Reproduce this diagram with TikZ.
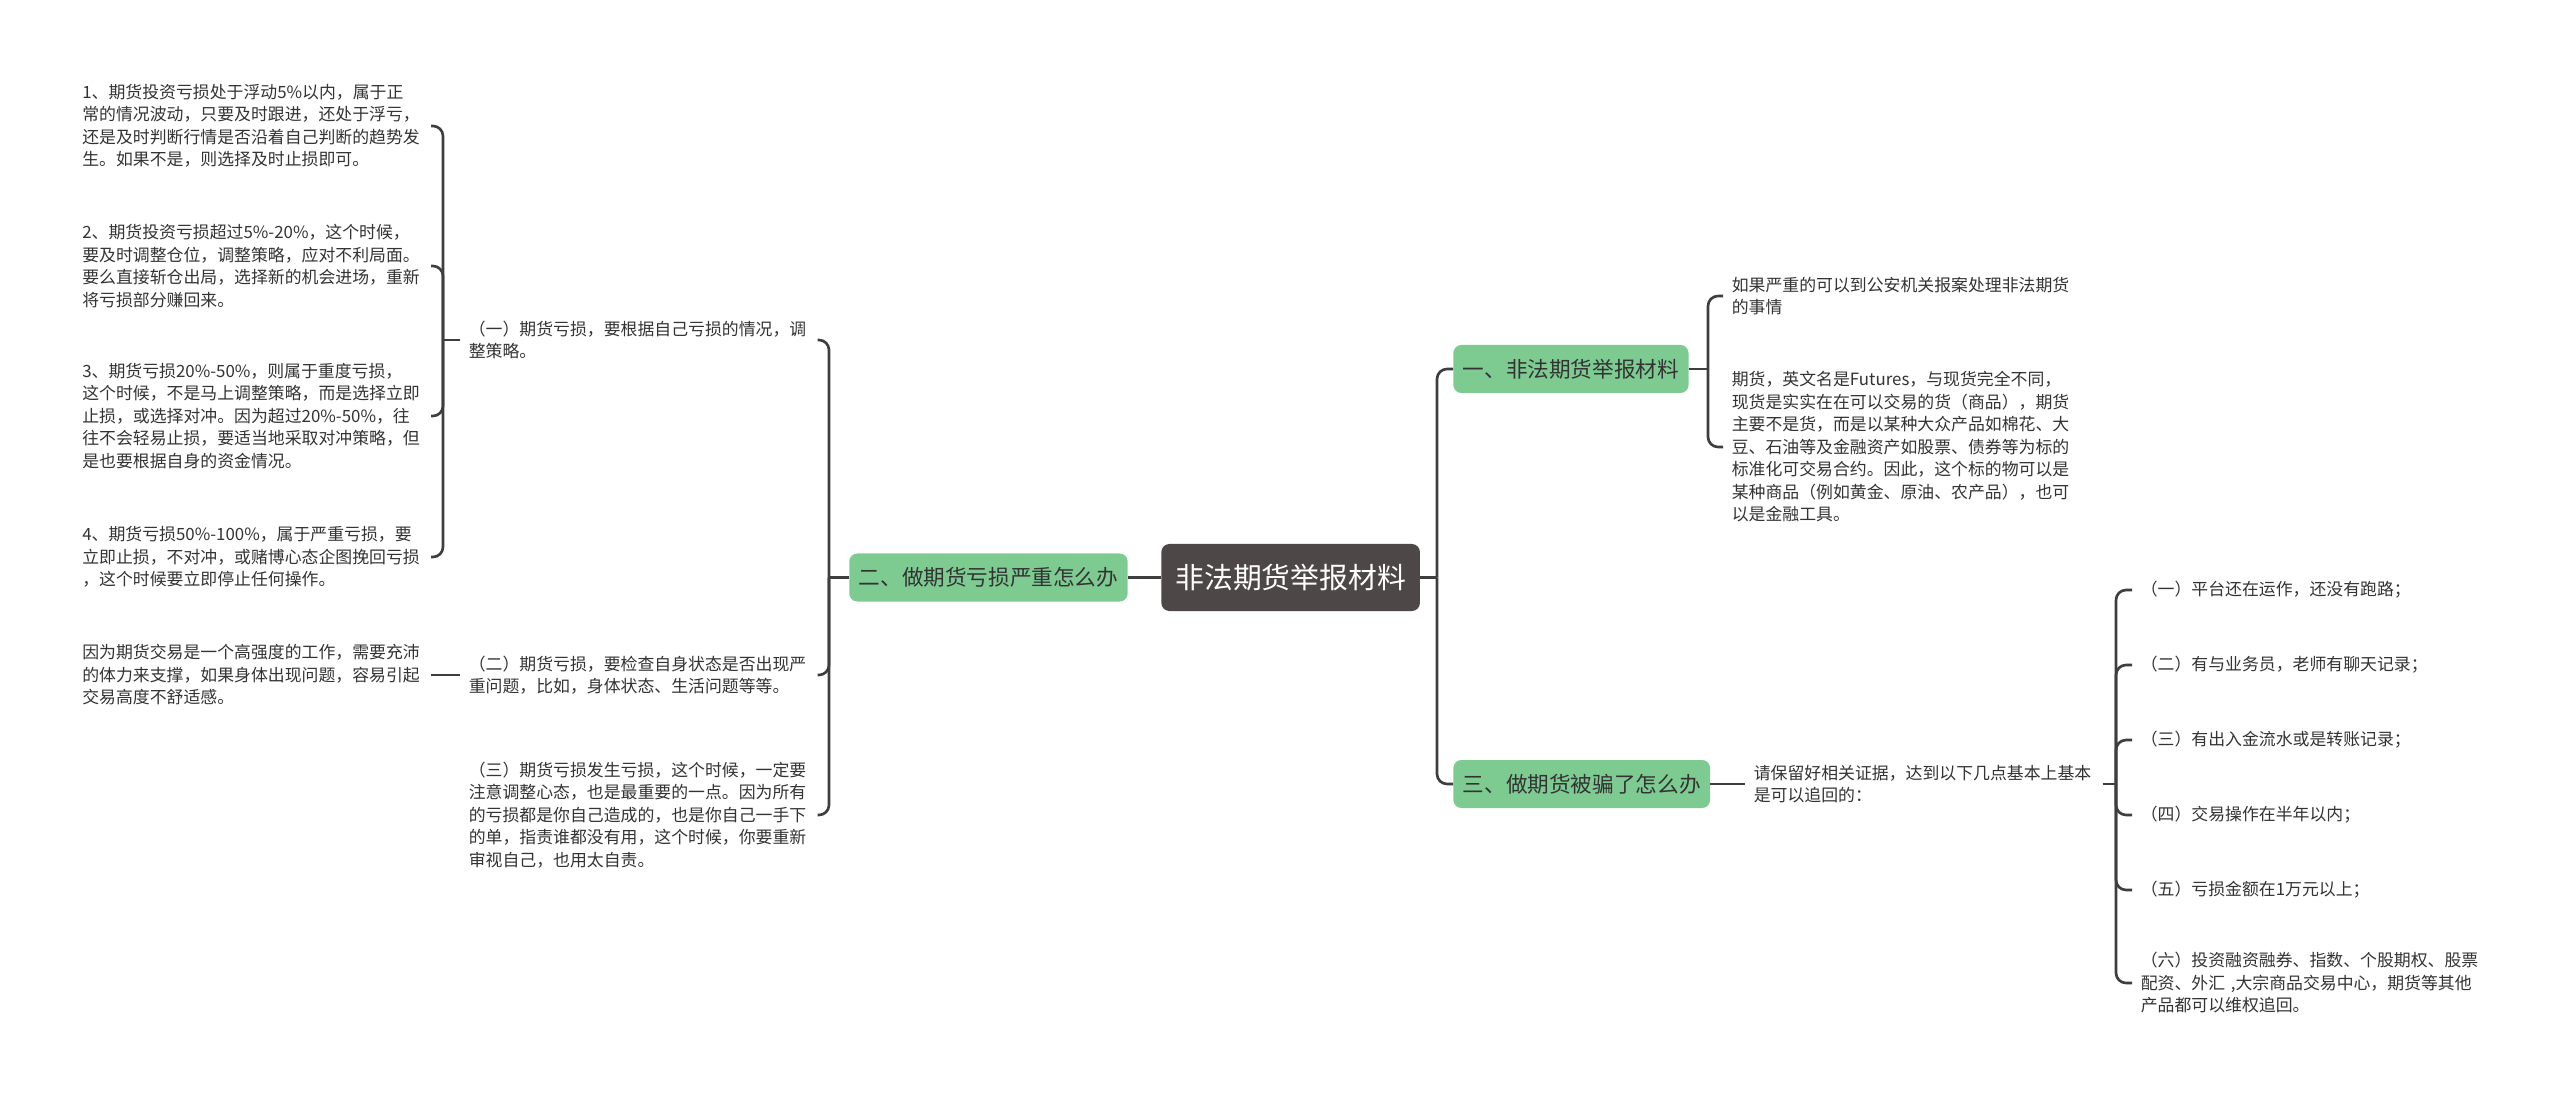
\documentclass[tikz,border=0pt]{standalone}
\usepackage{fontspec}
\newfontfamily\cjk{Noto Sans CJK SC}
\definecolor{RootGray}{RGB}{77,71,71}
\definecolor{BranchGreen}{RGB}{126,203,146}
\definecolor{LineGray}{RGB}{62,62,62}
\definecolor{TextGray}{RGB}{51,51,51}
\usepackage{tikz}
\usetikzlibrary{positioning, calc}

\begin{document}
\begin{tikzpicture}[
	raiz/.style={rectangle, fill=RootGray, rounded corners=0.16cm, text=white,
		inner xsep=0.28cm, minimum height=1.34cm, font=\cjk\fontsize{16.4}{20}\selectfont},
	rama/.style={rectangle, fill=BranchGreen, rounded corners=0.16cm, text=TextGray,
		inner xsep=0.19cm, minimum height=0.96cm, font=\cjk\fontsize{12.3}{15}\selectfont},
	hoja/.style={align=left, text width=6.8cm, inner xsep=0.17cm, inner ysep=0pt,
		text=TextGray, font=\cjk\fontsize{9.6}{12.8}\selectfont},
	lin/.style={line width=1.5pt, draw=LineGray, rounded corners=0.2cm}]

	\path[fill=white] (0,0) rectangle (51.2,-21.92);

	\node[raiz] (root) [anchor=west] at (23.22,-11.55) {非法期货举报材料};
	\node[rama] (n2) [anchor=east] at (22.56,-11.55) {二、做期货亏损严重怎么办};
	\node[rama] (n1) [anchor=west] at (29.06,-7.38) {一、非法期货举报材料};
	\node[rama] (n3) [anchor=west] at (29.06,-15.68) {三、做期货被骗了怎么办};

	\node[hoja, anchor=west] (a1) at (1.47,-2.52) {1、期货投资亏损处于浮动5\%以内，属于正\\常的情况波动，只要及时跟进，还处于浮亏，\\还是及时判断行情是否沿着自己判断的趋势发\\生。如果不是，则选择及时止损即可。};
	\node[hoja, anchor=west] (a2) at (1.47,-5.32) {2、期货投资亏损超过5\%-20\%，这个时候，\\要及时调整仓位，调整策略，应对不利局面。\\要么直接斩仓出局，选择新的机会进场，重新\\将亏损部分赚回来。};
	\node[hoja, anchor=west] (a3) at (1.47,-8.32) {3、期货亏损20\%-50\%，则属于重度亏损，\\这个时候，不是马上调整策略，而是选择立即\\止损，或选择对冲。因为超过20\%-50\%，往\\往不会轻易止损，要适当地采取对冲策略，但\\是也要根据自身的资金情况。};
	\node[hoja, anchor=west] (a4) at (1.47,-11.14) {4、期货亏损50\%-100\%，属于严重亏损，要\\立即止损，不对冲，或赌博心态企图挽回亏损\\，这个时候要立即停止任何操作。};
	\node[hoja, anchor=west] (a5) at (1.47,-13.5) {因为期货交易是一个高强度的工作，需要充沛\\的体力来支撑，如果身体出现问题，容易引起\\交易高度不舒适感。};

	\node[hoja, anchor=west] (m1) at (9.2,-6.8) {（一）期货亏损，要根据自己亏损的情况，调\\整策略。};
	\node[hoja, anchor=west] (m2) at (9.2,-13.5) {（二）期货亏损，要检查自身状态是否出现严\\重问题，比如，身体状态、生活问题等等。};
	\node[hoja, anchor=west] (m3) at (9.2,-16.3) {（三）期货亏损发生亏损，这个时候，一定要\\注意调整心态，也是最重要的一点。因为所有\\的亏损都是你自己造成的，也是你自己一手下\\的单，指责谁都没有用，这个时候，你要重新\\审视自己，也用太自责。};

	\node[hoja, anchor=west] (r1) at (34.46,-5.92) {如果严重的可以到公安机关报案处理非法期货\\的事情};
	\node[hoja, anchor=west] (r2) at (34.46,-8.94) {期货，英文名是Futures，与现货完全不同，\\现货是实实在在可以交易的货（商品），期货\\主要不是货，而是以某种大众产品如棉花、大\\豆、石油等及金融资产如股票、债券等为标的\\标准化可交易合约。因此，这个标的物可以是\\某种商品（例如黄金、原油、农产品），也可\\以是金融工具。};
	\node[hoja, anchor=west] (r3) at (34.9,-15.68) {请保留好相关证据，达到以下几点基本上基本\\是可以追回的：};

	\node[hoja, anchor=west] (s1) at (42.64,-11.8) {（一）平台还在运作，还没有跑路；};
	\node[hoja, anchor=west] (s2) at (42.64,-13.3) {（二）有与业务员，老师有聊天记录；};
	\node[hoja, anchor=west] (s3) at (42.64,-14.8) {（三）有出入金流水或是转账记录；};
	\node[hoja, anchor=west] (s4) at (42.64,-16.3) {（四）交易操作在半年以内；};
	\node[hoja, anchor=west] (s5) at (42.64,-17.8) {（五）亏损金额在1万元以上；};
	\node[hoja, anchor=west] (s6) at (42.64,-19.66) {（六）投资融资融券、指数、个股期权、股票\\配资、外汇 ,大宗商品交易中心，期货等其他\\产品都可以维权追回。};

	\coordinate (jr) at (28.74,-11.55);
	\coordinate (j2) at (16.58,-11.55);
	\coordinate (j1) at (8.86,-6.8);
	\coordinate (jn1) at (34.16,-7.38);
	\coordinate (jn3) at (42.32,-15.68);

	\draw[lin] (n2.east) -- (root.west);
	\draw[lin] (root.east) -- (jr);
	\draw[lin] (jr) |- (n1.west);   \draw[lin] (jr) |- (n3.west);

	\draw[lin] (n2.west) -- (j2);
	\draw[lin] (j2) |- (m1.east);   \draw[lin] (j2) |- (m2.east);   \draw[lin] (j2) |- (m3.east);
	\draw[lin] (m1.west) -- (j1);
	\draw[lin] (j1) |- (a1.east);   \draw[lin] (j1) |- (a2.east);
	\draw[lin] (j1) |- (a3.east);   \draw[lin] (j1) |- (a4.east);
	\draw[lin] (m2.west) -- (a5.east);

	\draw[lin] (n1.east) -- (jn1);
	\draw[lin] (jn1) |- (r1.west);  \draw[lin] (jn1) |- (r2.west);
	\draw[lin] (n3.east) -- (r3.west);
	\draw[lin] (r3.east) -- (jn3);
	\draw[lin] (jn3) |- (s1.west);  \draw[lin] (jn3) |- (s2.west);  \draw[lin] (jn3) |- (s3.west);
	\draw[lin] (jn3) |- (s4.west);  \draw[lin] (jn3) |- (s5.west);  \draw[lin] (jn3) |- (s6.west);
\end{tikzpicture}
\end{document}
